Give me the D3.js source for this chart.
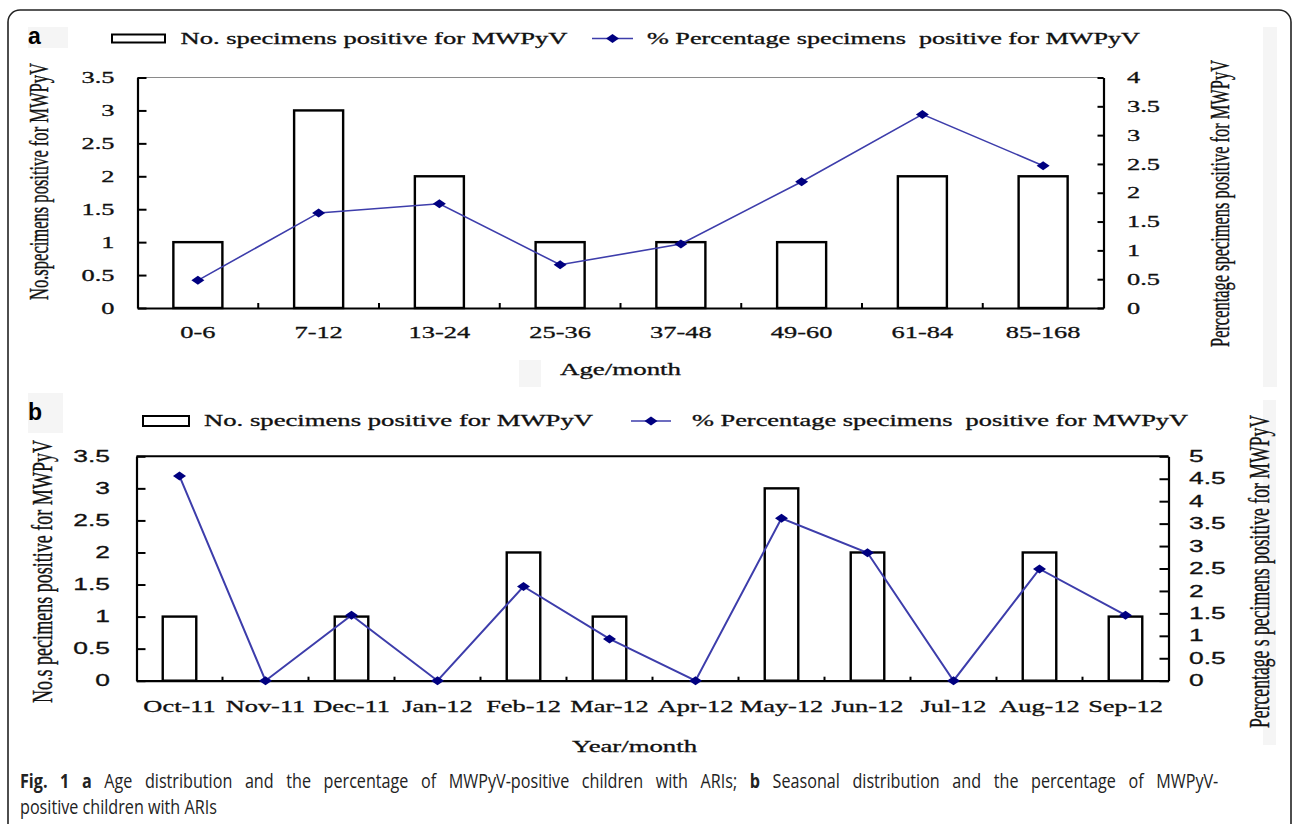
<!DOCTYPE html>
<html><head><meta charset="utf-8">
<script src="https://cdn.jsdelivr.net/npm/d3@7"></script>
<style>
body{margin:0;background:#fff;}
svg{display:block;}
text{white-space:pre;}
</style></head><body>
<svg id="c" width="1295" height="824"></svg>
<script>
// ---------------- DATA ----------------
const ageCategories = ["0-6","7-12","13-24","25-36","37-48","49-60","61-84","85-168"];
const ageCounts = [1,3,2,1,1,1,2,2];
const agePercent = [0.48,1.65,1.81,0.75,1.11,2.19,3.36,2.47];

const monthCategories = ["Oct-11","Nov-11","Dec-11","Jan-12","Feb-12","Mar-12","Apr-12","May-12","Jun-12","Jul-12","Aug-12","Sep-12"];
const monthCounts = [1,0,1,0,2,1,0,3,2,0,2,1];
const monthPercent = [4.56,0,1.46,0,2.10,0.93,0,3.62,2.85,0,2.49,1.46];

const countTicks = [0,0.5,1,1.5,2,2.5,3,3.5];
const agePercentTicks = [0,0.5,1,1.5,2,2.5,3,3.5,4];
const monthPercentTicks = [0,0.5,1,1.5,2,2.5,3,3.5,4,4.5,5];

const legendBarLabel = "No. specimens positive for MWPyV";
const legendLineLabel = "% Percentage specimens  positive for MWPyV";

// ---------------- STYLE / LAYOUT ----------------
const SERIF = "'Times New Roman','Liberation Serif',serif";
const SANS = "Arial,'Liberation Sans',sans-serif";
const SX = 1.65; // horizontal stretch of the original figure
const LINE_COLOR = "#3d3dab";
const MARK_COLOR = "#000080";
const TEXT_STROKE = 0.3;

const svg = d3.select("#c");

// outer frame
svg.append("rect").attr("x",8).attr("y",10).attr("width",1283).attr("height",840)
  .attr("rx",12).attr("fill","#fff").attr("stroke","#222").attr("stroke-width",1.6);

// faint background boxes from the original scan
const faint = [[28,27,40,21],[28,393,35,40],[1263,27,14,360],[1263,400,13,345],[519,360,22,27]];
svg.selectAll("rect.faint").data(faint).join("rect").attr("class","faint")
  .attr("x",d=>d[0]).attr("y",d=>d[1]).attr("width",d=>d[2]).attr("height",d=>d[3]).attr("fill","#f5f5f5");

function stretchedText(g, x, y, str, opts){
  const t = g.append("text")
    .attr("transform",`translate(${x},${y}) scale(${opts.sx||SX},1)`)
    .attr("text-anchor",opts.anchor||"start")
    .attr("dominant-baseline","central")
    .style("font-family",opts.family||SERIF)
    .style("font-size",(opts.size||16)+"px")
    .attr("fill","#111").attr("stroke","#111").attr("stroke-width",TEXT_STROKE)
    .text(str);
  if(opts.len){ t.attr("textLength",opts.len/(opts.sx||SX)).attr("lengthAdjust","spacingAndGlyphs"); }
  return t;
}
function rotatedText(g, cx, cy, str, opts){
  return g.append("text")
    .attr("transform",`translate(${cx},${cy}) scale(${SX},1) rotate(-90)`)
    .attr("text-anchor","middle").attr("dominant-baseline","central")
    .style("font-family",opts.family||SERIF).style("font-size",(opts.size||16.5)+"px")
    .attr("fill","#111").attr("stroke","#111").attr("stroke-width",TEXT_STROKE*0.8)
    .attr("textLength",opts.len).attr("lengthAdjust","spacingAndGlyphs")
    .text(str);
}
function diamond(g, x, y){
  g.append("path").attr("d","M0,-4.5L6.5,0L0,4.5L-6.5,0Z")
    .attr("transform",`translate(${x},${y})`).attr("fill",MARK_COLOR);
}

function drawPanel(cfg){
  const g = svg.append("g");
  const x = d3.scaleBand().domain(cfg.cats).range([cfg.x0,cfg.x1]).padding(0);
  const yL = d3.scaleLinear().domain([0,d3.max(cfg.leftTicks)]).range([cfg.yBot,cfg.yTop]);
  const yR = d3.scaleLinear().domain([0,d3.max(cfg.rightTicks)]).range([cfg.yBot,cfg.yTop]);
  const bw = x.bandwidth()*cfg.barFrac;

  // panel letter
  g.append("text").attr("x",28).attr("y",cfg.letterY).text(cfg.letter)
    .style("font-family",SANS).style("font-weight","bold").style("font-size","23px").attr("fill","#000");

  // top border of plot area
  g.append("line").attr("x1",cfg.x0).attr("x2",cfg.x1).attr("y1",cfg.yTop).attr("y2",cfg.yTop)
    .attr("stroke",cfg.topColor).attr("stroke-width",cfg.topWidth);

  // bars
  g.selectAll("rect.bar").data(cfg.counts.map((v,i)=>({c:cfg.cats[i],v})).filter(d=>d.v>0))
    .join("rect").attr("class","bar")
    .attr("x",d=>x(d.c)+(x.bandwidth()-bw)/2).attr("width",bw)
    .attr("y",d=>yL(d.v)).attr("height",d=>yL(0)-yL(d.v))
    .attr("fill","#fff").attr("stroke","#000").attr("stroke-width",2.4);

  // x boundary ticks
  g.selectAll("line.xt").data(cfg.cats.slice(1)).join("line").attr("class","xt")
    .attr("x1",d=>x(d)).attr("x2",d=>x(d)).attr("y1",cfg.yBot).attr("y2",cfg.yBot-cfg.xTick)
    .attr("stroke","#000").attr("stroke-width",2);

  // left axis
  const la = g.append("g").attr("transform",`translate(${cfg.x0},0)`)
    .call(d3.axisLeft(yL).tickValues(cfg.leftTicks).tickSizeInner(-cfg.lTick).tickSizeOuter(0)
      .tickPadding(cfg.lGap/SX).tickFormat(d=>String(d)));
  // right axis
  const ra = g.append("g").attr("transform",`translate(${cfg.x1},0)`)
    .call(d3.axisRight(yR).tickValues(cfg.rightTicks).tickSizeInner(-cfg.rTick).tickSizeOuter(0)
      .tickPadding(cfg.rGap/SX).tickFormat(d=>String(d)));
  // bottom axis
  const ba = g.append("g").attr("transform",`translate(0,${cfg.yBot})`)
    .call(d3.axisBottom(x).tickSize(0).tickSizeOuter(0).tickPadding(cfg.xGap));
  [la,ra,ba].forEach(a=>{
    a.select(".domain").attr("stroke","#000").attr("stroke-width",2.2);
    a.selectAll(".tick line").attr("stroke","#000").attr("stroke-width",2);
    a.selectAll(".tick text").attr("fill","#111").attr("stroke","#111").attr("stroke-width",TEXT_STROKE)
      .attr("transform",`scale(${SX},1)`);
  });
  ba.selectAll(".tick text").attr("dy","0.32em").style("font-family",SERIF).style("font-size","16px");
  [la,ra].forEach(a=>a.selectAll(".tick text").style("font-family",cfg.yFont).style("font-size",cfg.yFontSize+"px"));
  la.selectAll(".tick text").attr("x",-cfg.lGap/SX);
  ra.selectAll(".tick text").attr("x",cfg.rGap/SX);

  // line series
  const pts = cfg.pct.map((v,i)=>[x(cfg.cats[i])+x.bandwidth()/2, yR(v)]);
  g.append("path").attr("d",d3.line()(pts)).attr("fill","none")
    .attr("stroke",LINE_COLOR).attr("stroke-width",cfg.lineWidth);
  pts.forEach(p=>diamond(g,p[0],p[1]));

  // legend
  const L = cfg.legend;
  g.append("rect").attr("x",L.rx).attr("y",L.y-L.rh/2).attr("width",L.rw).attr("height",L.rh)
    .attr("fill","#fff").attr("stroke","#000").attr("stroke-width",2);
  stretchedText(g,L.t1x,L.y,legendBarLabel,{size:16,len:L.t1w});
  g.append("line").attr("x1",L.lx1).attr("x2",L.lx2).attr("y1",L.y).attr("y2",L.y)
    .attr("stroke",LINE_COLOR).attr("stroke-width",1.6);
  diamond(g,(L.lx1+L.lx2)/2,L.y);
  stretchedText(g,L.t2x,L.y,legendLineLabel,{size:16,len:L.t2w});

  // axis titles
  stretchedText(g,cfg.xTitle.x,cfg.xTitle.y,cfg.xTitle.text,{size:16.5,anchor:"middle",len:cfg.xTitle.w});
  rotatedText(g,cfg.lTitle.x,cfg.lTitle.y,cfg.lTitle.text,{size:cfg.lTitle.size,len:cfg.lTitle.len});
  rotatedText(g,cfg.rTitle.x,cfg.rTitle.y,cfg.rTitle.text,{size:cfg.rTitle.size,len:cfg.rTitle.len});
}

drawPanel({
  letter:"a", letterY:43.5,
  cats:ageCategories, counts:ageCounts, pct:agePercent,
  leftTicks:countTicks, rightTicks:agePercentTicks,
  x0:137.5, x1:1103.5, yTop:77.5, yBot:308, barFrac:0.406,
  topColor:"#8a8a8a", topWidth:1.2, xTick:5, lTick:9, rTick:6,
  lGap:23, rGap:23.5, xGap:25, yFont:SERIF, yFontSize:16, lineWidth:1.6,
  legend:{rx:112,rw:53,rh:8,y:38.5,t1x:180.5,t1w:387,lx1:592,lx2:633,t2x:647,t2w:493},
  xTitle:{x:620.5,y:370,text:"Age/month",w:121},
  lTitle:{x:39,y:181.5,text:"No.specimens positive for MWPyV",size:16.5,len:237},
  rTitle:{x:1220,y:203.5,text:"Percentage specimens positive for MWPyV",size:16.5,len:287}
});

drawPanel({
  letter:"b", letterY:419.5,
  cats:monthCategories, counts:monthCounts, pct:monthPercent,
  leftTicks:countTicks, rightTicks:monthPercentTicks,
  x0:136.5, x1:1168.5, yTop:456.3, yBot:680.7, barFrac:0.39,
  topColor:"#000", topWidth:2, xTick:4, lTick:9, rTick:9,
  lGap:26.5, rGap:20.5, xGap:26, yFont:SANS, yFontSize:16, lineWidth:2,
  legend:{rx:143,rw:46,rh:10,y:421,t1x:204,t1w:389,lx1:631,lx2:671,t2x:692,t2w:496},
  xTitle:{x:634.5,y:747,text:"Year/month",w:125},
  lTitle:{x:42,y:571.5,text:"No.s pecimens positive for MWPyV",size:18,len:263},
  rTitle:{x:1259,y:571.5,text:"Percentage s pecimens positive for MWPyV",size:18,len:313}
});

// ---------------- CAPTION (justified first line) ----------------
const capLines = [
  [["Fig. 1","bold"],[" a","bold"],[" Age distribution and the percentage of MWPyV-positive children with ARIs; ","normal"],["b","bold"],[" Seasonal distribution and the percentage of MWPyV-","normal"]],
  [["positive children with ARIs","normal"]]
];
const capG = svg.append("g");
const capNodes = capLines.map(parts=>{
  const t = capG.append("text").attr("x",0).attr("y",0)
    .style("font-family","'Open Sans',sans-serif").style("font-size","20px").attr("fill","#222");
  parts.forEach(p=>t.append("tspan").style("font-weight",p[1]==="bold"?"700":"400").text(p[0]));
  return t;
});
const w2 = capNodes[1].node().getComputedTextLength();
const capScale = 197 / w2;
const w1 = capNodes[0].node().getComputedTextLength();
const nSpaces = capLines[0].map(p=>p[0]).join("").split(" ").length - 1;
const extra = Math.max(0,(1199/capScale - w1) / nSpaces);
capNodes[0].style("word-spacing", extra + "px");
capNodes.forEach((t,i)=>t.attr("transform",`translate(20,${788}) translate(0,${i*25.5}) scale(${capScale},1)`));
</script>
</body></html>
